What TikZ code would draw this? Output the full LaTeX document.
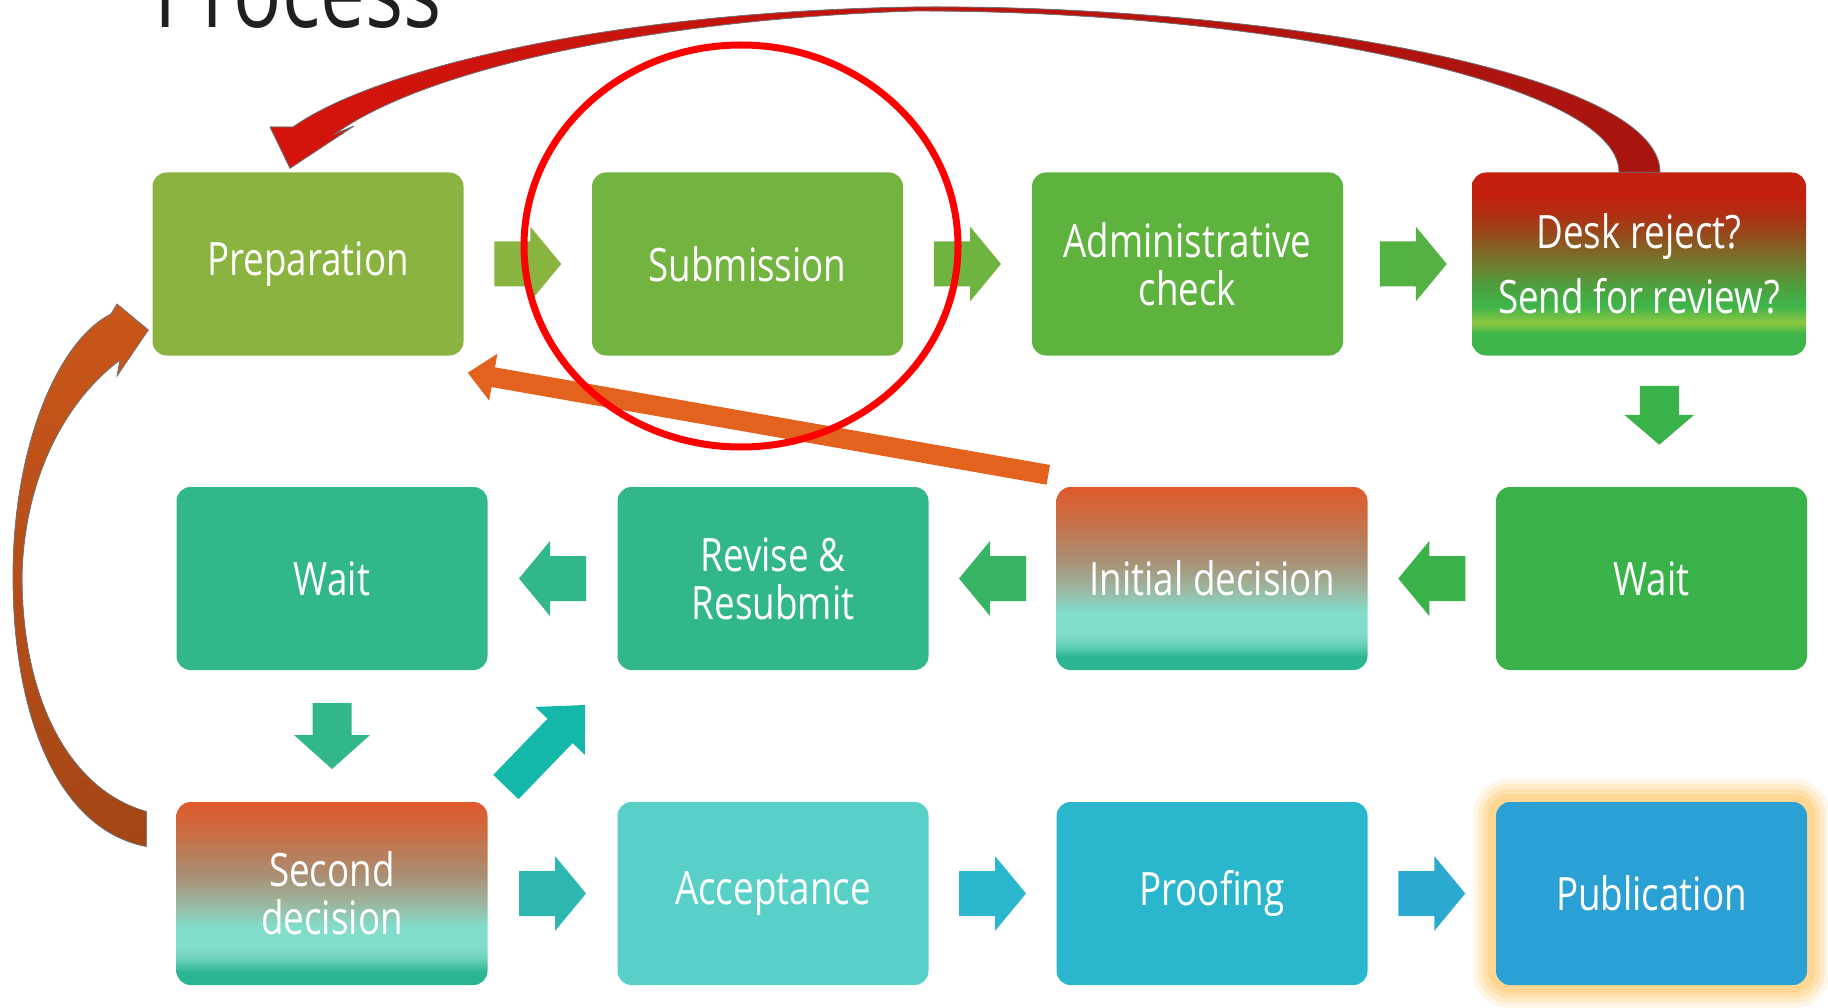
\documentclass[tikz,border=0pt]{standalone}
\usepackage{fontspec}
\newfontfamily\boxfont[FakeStretch=0.8]{Open Sans}
\usetikzlibrary{calc,arrows.meta,backgrounds}

\definecolor{prepC}{HTML}{8AB43F}
\definecolor{subC}{HTML}{73B440}
\definecolor{adminC}{HTML}{5EB23E}
\definecolor{waitC}{HTML}{3AB24A}
\definecolor{tealC}{HTML}{32B68C}
\definecolor{acceptC}{HTML}{58D0C8}
\definecolor{proofC}{HTML}{2AB6CC}
\definecolor{pubC}{HTML}{2BA0D4}
\definecolor{glowC}{HTML}{FFCF7A}
\definecolor{turqC}{HTML}{14B8AA}
\definecolor{cyanC}{HTML}{2DB7B0}
% gradient stops
\definecolor{deskR}{HTML}{C42010}
\definecolor{deskR2}{HTML}{B02E12}
\definecolor{deskB}{HTML}{8E5420}
\definecolor{deskO}{HTML}{6B8233}
\definecolor{deskM}{HTML}{4EA03E}
\definecolor{deskG}{HTML}{3DB54A}
\definecolor{deskL}{HTML}{8DC641}
\definecolor{decO}{HTML}{E05A2C}
\definecolor{decO2}{HTML}{CD6A40}
\definecolor{decB}{HTML}{A98F74}
\definecolor{decG}{HTML}{9DB59E}
\definecolor{decL}{HTML}{82DCCB}
\definecolor{decT}{HTML}{2CB592}
% loop arrows
\definecolor{redL}{HTML}{D4140C}
\definecolor{redR}{HTML}{A8140F}
\definecolor{darkT}{HTML}{1F4A4A}
\definecolor{orgA}{HTML}{E2621E}
\definecolor{orgB}{HTML}{C9561A}
\definecolor{orgC}{HTML}{A54616}

\pgfdeclareverticalshading{deskshade}{100bp}{color(0bp)=(deskG); color(25bp)=(deskG); color(31bp)=(deskG); color(34bp)=(deskL); color(38.5bp)=(deskG); color(44bp)=(deskM); color(49bp)=(deskO); color(56.5bp)=(deskB); color(63.5bp)=(deskR2); color(69bp)=(deskR); color(100bp)=(deskR)}
\pgfdeclareverticalshading{decshade}{100bp}{color(0bp)=(decT); color(25bp)=(decT); color(28.5bp)=(decT); color(32bp)=(decL!70!decT); color(35bp)=(decL); color(41bp)=(decL); color(47.5bp)=(decG); color(55bp)=(decB); color(67.5bp)=(decO2); color(75bp)=(decO); color(100bp)=(decO)}

\tikzset{
  pics/barrow/.style n args={4}{code={
    \path[pic actions] (-#1,-#2) -- ({#1-#4},-#2) -- ({#1-#4},-#3) -- (#1,0)
      -- ({#1-#4},#3) -- ({#1-#4},#2) -- (-#1,#2) -- cycle;
  }}
}

\begin{document}
\begin{tikzpicture}[x=1pt,y=-1pt,
    box/.style={rounded corners=14, minimum width=311, minimum height=183,
      inner sep=0, align=center, text=white,
      font=\boxfont\fontsize{46}{48}\selectfont},
    gradbox/.style={box, shade, shading=#1},
    loopfill/.style={draw=black!55, line width=0.8}]
    \clip (0,0) rectangle (1828,1008);

    \node[anchor=base, text=black!88, font=\boxfont\fontsize{100}{100}\selectfont] (title) at (298,28) {Process};

    % plain boxes
    \foreach \name/\x/\y/\col/\txt in {
        prep/308/264/prepC/Preparation,
        sub/747.5/264/subC/Submission,
        admin/1187.5/264/adminC/{Administrative\\check},
        wait2/1651.5/578.5/waitC/Wait,
        revise/773/578.5/tealC/{Revise \&\\Resubmit},
        wait1/332/578.5/tealC/Wait,
        accept/773/893.5/acceptC/Acceptance,
        proof/1212/893.5/proofC/Proofing,
        pub/1651.5/893.5/pubC/Publication} {
        \node[box, fill=\col] (\name) at (\x,\y) {\txt};
    }
    \node[gradbox=deskshade, minimum width=334] (desk) at (1639,264) {Desk reject?\\[17pt]Send for review?};
    \node[gradbox=decshade] (init) at (1212,578.5) {Initial decision};
    \node[gradbox=decshade] (second) at (332,893.5) {Second\\decision};

    % glow round the last box
    \begin{scope}[on background layer]
        \fill[white] (0,0) rectangle (1828,1008);
        \foreach \w/\o in {46/0.18, 36/0.25, 26/0.35, 16/0.5} {
            \draw[glowC, line width=\w, opacity=\o, rounded corners=14] (pub.south west) rectangle (pub.north east);
        }
    \end{scope}

    % block arrows between boxes
    \foreach \a/\b/\ang/\col in {prep/sub/0/prepC!90!subC, sub/admin/0/subC!80!adminC, admin/desk/0/adminC!70!waitC,
        wait2/init/180/waitC, init/revise/180/waitC!60!tealC, revise/wait1/180/tealC,
        second/accept/0/cyanC, accept/proof/0/proofC, proof/pub/0/proofC!40!pubC} {
        \pic[fill=\col, rotate=\ang] at ($(\a)!.5!(\b)$) {barrow={33.5}{22.5}{37.5}{31}};
    }
    \pic[fill=waitC, rotate=-90] at ($(desk)!.5!(wait2)+(14,-6)$) {barrow={29.5}{19.5}{35}{30}};
    \pic[fill=tealC, rotate=-90] at ($(wait1)!.5!(second)$) {barrow={33}{19.5}{38}{34}};
    \pic[fill=turqC, rotate=46] at ($(second)!.5!(revise)+(-7,10)$) {barrow={57}{17.5}{34.5}{36}};

    % loop back from desk reject
    \fill[loopfill, left color=redL, middle color=darkT, right color=redR]
        ($(prep.north)+(-18,-4)$) -- (270,127) -- (293,127)
        .. controls (370,72) and (600,12) .. (914,7)
        .. controls (1250,4) and (1660,70) .. ($(desk.north)+(21,0)$)
        -- ($(desk.north)+(-20,0)$)
        .. controls (1619,80) and (1250,10) .. (914,11)
        .. controls (640,20) and (420,72) .. (335,134) -- (354,126) -- cycle;

    % loop back from second decision
    \fill[loopfill, top color=orgB, bottom color=orgC]
        ($(prep.west)+(-4,66)$) -- (117,376) -- (120,360)
        .. controls (64,402) and (24,480) .. (22,576)
        .. controls (22,700) and (70,790) .. ($(second.west)+(-30,-82)$)
        -- ($(second.west)+(-30,-47)$)
        .. controls (60,830) and (13,720) .. (13,576)
        .. controls (13,450) and (56,342) .. (111,314) -- (117,304) -- cycle;

    % back from initial decision
    \draw[orgA, line width=20, -{Triangle[width=46pt,length=26pt]}]
        ($(init.north west)+(-8,-12)$) -- ($(prep.south east)+(4,17)$);

    % highlight
    \draw[red, line width=7] (741,246) ellipse [x radius=217, y radius=201];
\end{tikzpicture}
\end{document}
